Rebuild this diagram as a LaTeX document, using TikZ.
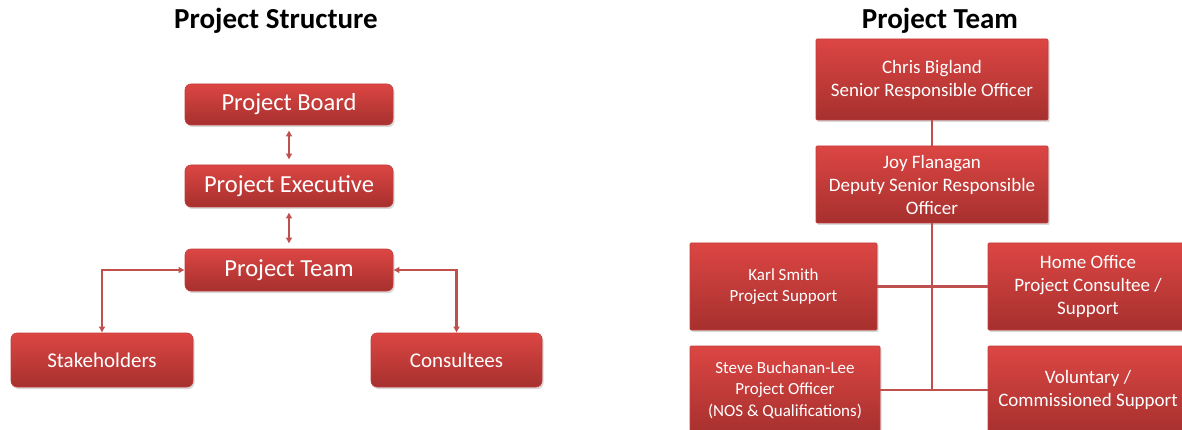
\documentclass[tikz,border=0pt]{standalone}
\usepackage{fontspec}
\setmainfont{Carlito}
\usetikzlibrary{positioning}
\usetikzlibrary{arrows.meta}
\usetikzlibrary{shadows}
\usetikzlibrary{calc}

\definecolor{boxtop}{HTML}{DC4643}
\definecolor{boxbot}{HTML}{A6302E}
\definecolor{boxedge}{HTML}{C23E3B}
\definecolor{linkred}{HTML}{C0504D}

\tikzset{
  box/.style={draw=boxedge, line width=0.6pt, top color=boxtop, bottom color=boxbot,
    text=white, align=center, inner sep=2pt,
    drop shadow={shadow xshift=1.5pt, shadow yshift=-2pt, opacity=0.3}},
  rbox/.style={box, rounded corners=6pt, font=\fontsize{24.5}{28}\selectfont},
  lowbox/.style={box, rounded corners=6pt, font=\fontsize{21}{25}\selectfont},
  sbox/.style={box, rounded corners=1pt, font=\fontsize{19}{23}\selectfont},
  smallbox/.style={sbox, font=\fontsize{17}{21.5}\selectfont},
  title/.style={font=\fontsize{29}{34}\selectfont\bfseries},
  link/.style={draw=linkred, line width=2.5pt},
  twoway/.style={link, {Latex[length=6pt,width=7pt]}-{Latex[length=6pt,width=7pt]}}
}

\begin{document}
\begin{tikzpicture}[x=1pt, y=-1pt]
\clip (0,0) rectangle (1182,430);

% project structure
\node[title] (structtitle) at (276,21) {Project Structure};
\node[rbox, minimum width=208pt, minimum height=41pt] (board) at (289,104.5) {Project Board};
\node[rbox, minimum width=208pt, minimum height=42pt] (exec) at (289,186) {Project Executive};
\node[rbox, minimum width=208pt, minimum height=42pt] (team) at (289,270) {Project Team};
\node[lowbox, minimum width=182pt, minimum height=54pt] (stake) at (102,360) {Stakeholders};
\node[lowbox, minimum width=171pt, minimum height=54pt] (cons) at (456.5,360) {Consultees};

\draw[twoway, shorten <=5pt, shorten >=5pt] (board) -- (exec);
\draw[twoway, shorten <=5pt, shorten >=5pt] (exec) -- (team);
\draw[twoway] (team.west) -| (stake.north);
\draw[twoway] (team.east) -| (cons.north);

% project team
\node[title] (teamtitle) at (940,21) {Project Team};
\node[sbox, minimum width=232pt, minimum height=81pt] (chris) at (932,79.5)
  {Chris Bigland\\Senior Responsible Officer};
\node[sbox, minimum width=232pt, minimum height=77pt] (joy) at (932,184.5)
  {Joy Flanagan\\Deputy Senior Responsible\\Officer};
\node[smallbox, minimum width=187pt, minimum height=87pt] (karl) at (783.5,286.5)
  {Karl Smith\\Project Support};
\node[sbox, minimum width=200pt, minimum height=87pt] (home) at (1088,286.5)
  {Home Office\\Project Consultee /\\Support};
\node[smallbox, minimum width=190pt, minimum height=88pt] (steve) at (785,390)
  {Steve Buchanan-Lee\\Project Officer\\(NOS \& Qualifications)};
\node[sbox, minimum width=200pt, minimum height=88pt] (vol) at (1088,390)
  {Voluntary /\\Commissioned Support};

\draw[link] (chris) -- (joy);
\draw[link] (joy) -- (joy |- steve);
\draw[link] (karl) -- (home);
\draw[link] (steve) -- (vol);
\end{tikzpicture}
\end{document}
